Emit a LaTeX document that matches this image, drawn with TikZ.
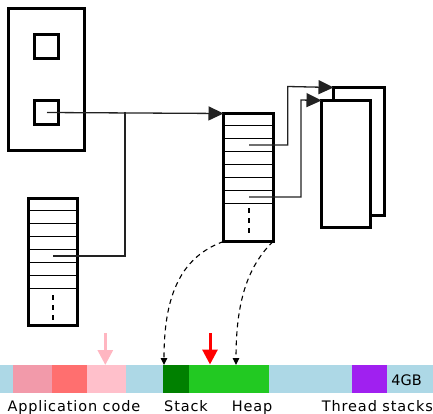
\documentclass[tikz,border=0pt]{standalone}
\usepackage{fontspec}
\newfontfamily\labelfont[LetterSpace=6]{DejaVu Sans}
\newfontfamily\sizefont{DejaVu Sans}
\usetikzlibrary{arrows.meta}

\definecolor{freeblue}{HTML}{ADD8E6}
\definecolor{codeA}{HTML}{F29AAA}
\definecolor{codeB}{HTML}{FF6F6F}
\definecolor{codeC}{HTML}{FFC0CB}
\definecolor{stackgreen}{HTML}{008000}
\definecolor{heapgreen}{HTML}{22C922}
\definecolor{threadpurple}{HTML}{A020F0}
\definecolor{pinkmark}{HTML}{FFB6C1}
\definecolor{linkgray}{HTML}{222222}

\begin{document}
\begin{tikzpicture}[x=1pt,y=-1pt,
  frame/.style={draw=black, line width=3pt, fill=white, inner sep=0pt,
                outer sep=0pt, anchor=north west},
  cellline/.style={draw=black, line width=1.3pt},
  gapline/.style={draw=black, line width=1.3pt, dash pattern=on 5pt off 5pt},
  link/.style={draw=linkgray, line width=1.3pt},
  ptr/.style={link, -{Triangle[length=15pt,width=14pt]}},
  lazyptr/.style={draw=black, line width=1.1pt, dash pattern=on 5pt off 4pt,
                  -{Triangle[length=7pt,width=6.5pt]}},
  marker/.style={line width=3pt, -{Triangle[length=15pt,width=15pt]}},
  seg/.style={anchor=north west, inner sep=0pt, outer sep=0pt,
              minimum height=28pt},
  lbl/.style={font=\labelfont\fontsize{14.5}{16}\selectfont, inner sep=0pt,
              anchor=base west},
]
\useasboundingbox (0,0) rectangle (433,414);

% ---- object with two reference slots ----
\node[frame, minimum width=76pt, minimum height=142pt] (obj) at (8.5,9) {};
\node[frame, minimum width=24pt, minimum height=24pt] (slotA) at (34.5,34.5) {};
\node[frame, minimum width=24pt, minimum height=24pt] (slotB) at (34.5,100.5) {};

% ---- left stack of cells ----
\node[frame, minimum width=49pt, minimum height=127pt] (lstack) at (28.5,198.5) {};
\foreach \k in {0,...,6}
  \draw[cellline] (28.5,210.5+13*\k) -- (77.5,210.5+13*\k);
\draw[gapline] (53,295) -- (53,322);

% ---- middle stack of cells ----
\node[frame, minimum width=49.5pt, minimum height=128pt] (mstack) at (223.5,113.5) {};
\foreach \k in {0,...,6}
  \draw[cellline] (223.5,125.5+13*\k) -- (273,125.5+13*\k);
\draw[gapline] (249,208) -- (249,236);

% ---- two stacked pages ----
\node[frame, minimum width=51pt, minimum height=128pt] (backpage) at (333.5,87.5) {};
\node[frame, minimum width=49pt, minimum height=126.5pt] (frontpage) at (321.5,100.5) {};

% ---- reference links ----
\coordinate (fromSlot) at (47,112.5);
\coordinate (join) at (125,112.5);
\coordinate (fromLeft) at (53,256);
\coordinate (bendL) at (125,256);
\coordinate (fromRow3) at (249,145);
\coordinate (upA) at (287.7,145);
\coordinate (topA) at (287.7,86.5);
\coordinate (fromRow7) at (249,197);
\coordinate (upB) at (301,197);
\coordinate (topB) at (301,100);

\draw[ptr] (fromSlot) -- (mstack.north west);
\draw[link] (fromLeft) -- (bendL) -- (join);
\draw[ptr] (fromRow3) -- (upA) -- (topA) -- (backpage.north west);
\draw[ptr] (fromRow7) -- (upB) -- (topB) -- (frontpage.north west);

% ---- address space bar ----
\node[seg, fill=freeblue, minimum width=433pt] (bar) at (0,365) {};
\node[seg, fill=codeA, minimum width=39pt] (codeone) at (12.7,365) {};
\node[seg, fill=codeB, minimum width=35.6pt] (codetwo) at (51.7,365) {};
\node[seg, fill=codeC, minimum width=38.7pt] (codethree) at (87.3,365) {};
\node[seg, fill=stackgreen, minimum width=26.3pt] (stackseg) at (162.7,365) {};
\node[seg, fill=heapgreen, minimum width=80pt] (heapseg) at (189,365) {};
\node[seg, fill=threadpurple, minimum width=35pt] (threadseg) at (351.7,365) {};
\node[inner sep=0pt, anchor=base, font=\sizefont\fontsize{14.5}{16}\selectfont]
  (size) at (406.5,385) {4GB};

% ---- lazy mappings into the bar ----
\coordinate (stackTop) at (164,365);
\coordinate (heapTop) at (236,365);
\draw[lazyptr] (mstack.south west) .. controls (178,258) and (164,300) .. (stackTop);
\draw[lazyptr] (mstack.south east) .. controls (246,268) and (236,305) .. (heapTop);

% ---- position markers ----
\coordinate (pinkStart) at (105.3,333);
\coordinate (pinkEnd) at (105.3,365);
\coordinate (redStart) at (210,333);
\coordinate (redEnd) at (210,364.5);
\draw[marker, draw=pinkmark, fill=pinkmark] (pinkStart) -- (pinkEnd);
\draw[marker, draw=red, fill=red] (redStart) -- (redEnd);

% ---- labels ----
\node[lbl] (applbl) at (7.3,411.5) {Application code};
\node[lbl] (stacklbl) at (164,411.5) {Stack};
\node[lbl] (heaplbl) at (231.7,411.5) {Heap};
\node[lbl] (threadlbl) at (321.7,411.5) {Thread stacks};
\end{tikzpicture}
\end{document}
